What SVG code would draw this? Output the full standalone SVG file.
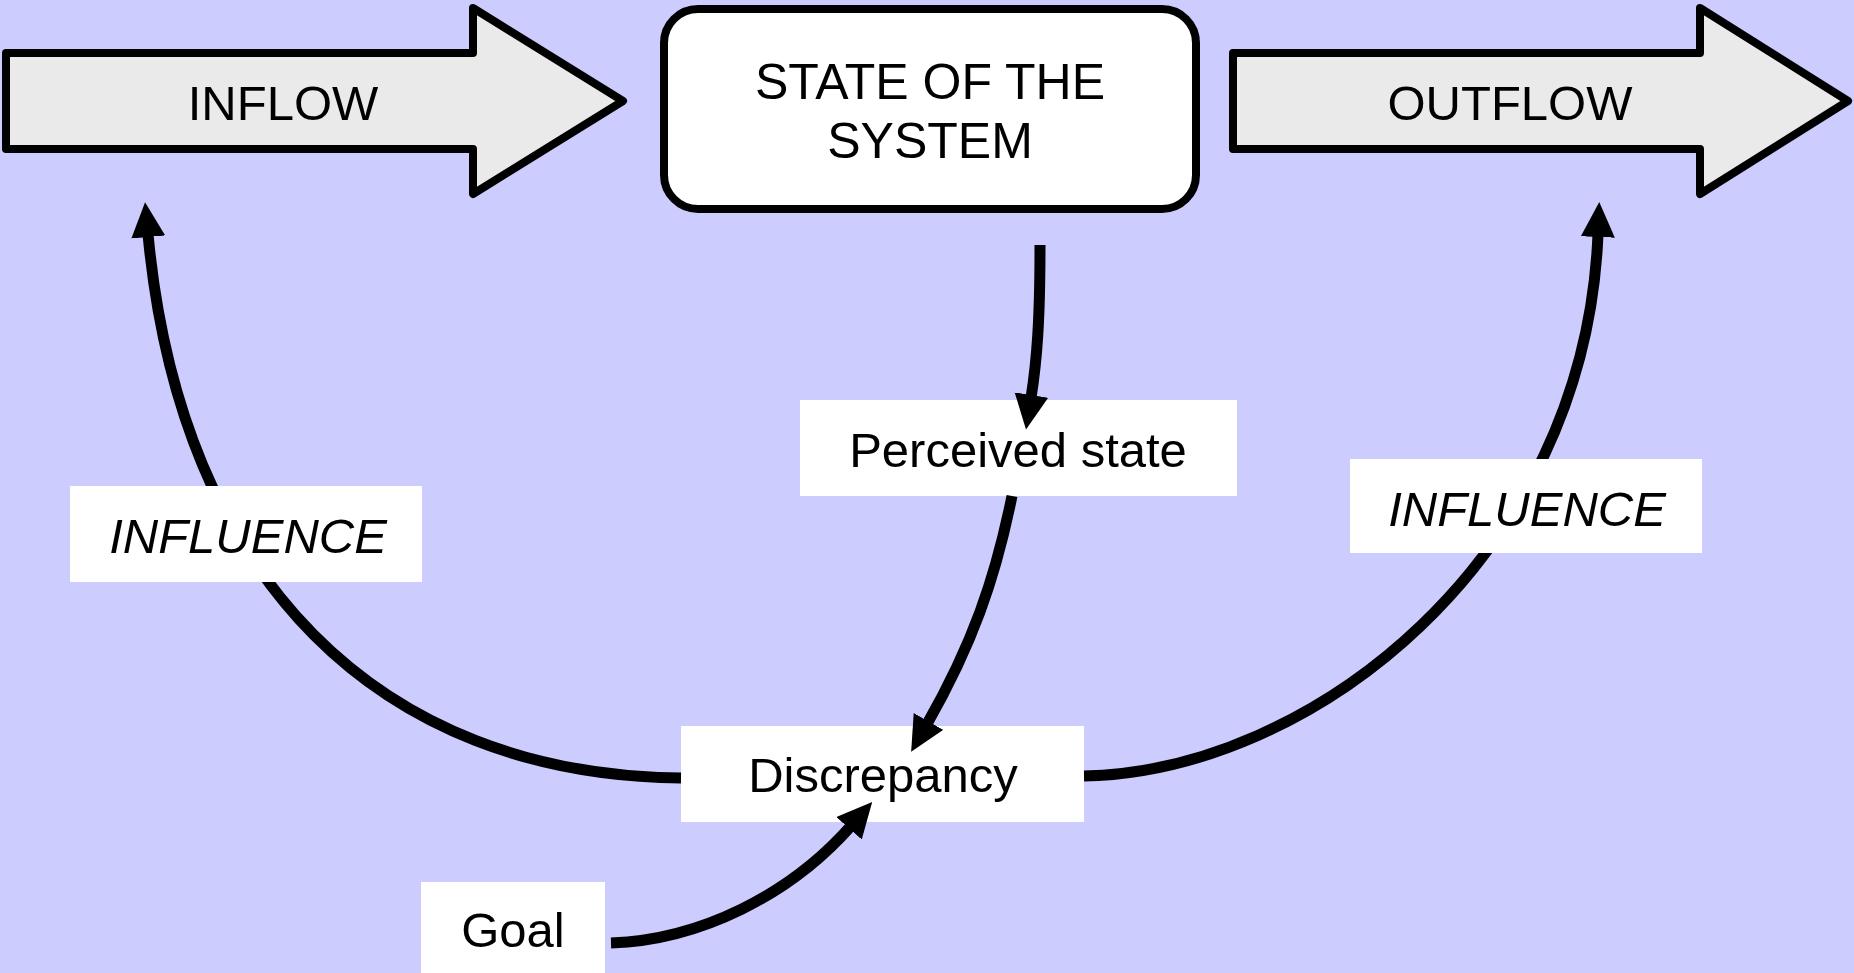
<svg xmlns="http://www.w3.org/2000/svg" width="1854" height="973" viewBox="0 0 1854 973">
<defs>
<style>
.bg{fill:#CCCCFF}
.flow{fill:#EAEAEA;stroke:#000;stroke-width:8;stroke-linejoin:round}
.state{fill:#fff;stroke:#000;stroke-width:8}
.box{fill:#fff;stroke:none}
.t{font-family:"Liberation Sans",Arial,sans-serif;font-size:49px;fill:#000;text-anchor:middle}
.big{font-size:50px}
.it{font-style:italic}
.c{fill:none;stroke:#000;stroke-width:11}
</style>
<marker id="ah" markerUnits="userSpaceOnUse" markerWidth="36" markerHeight="36" viewBox="0 0 36 36" refX="3" refY="17" orient="auto">
<path d="M0,0 L35,17 L0,34 z" fill="#000"/>
</marker>
</defs>
<rect class="bg" x="0" y="0" width="1854" height="973"/>
<g id="perceived">
<rect class="box" x="800" y="400" width="437" height="96"/>
<text class="t" x="1018" y="467">Perceived state</text>
</g>
<g id="discrepancy">
<rect class="box" x="681" y="726" width="403" height="96"/>
<text class="t" x="883" y="792">Discrepancy</text>
</g>
<g id="goal">
<rect class="box" x="421" y="882" width="184" height="91"/>
<text class="t" x="513" y="947">Goal</text>
</g>
<g id="connectors">
<path class="c" d="M1040,245 C1040,320 1037,360 1031,398" marker-end="url(#ah)"/>
<path class="c" d="M1012,496 C995,580 972,645 927,724" marker-end="url(#ah)"/>
<path class="c" d="M611,943 C700,940 790,895 851,826" marker-end="url(#ah)"/>
<path class="c" d="M681,778 C380,775 180,580 148,234" marker-end="url(#ah)"/>
<path class="c" d="M1084,776 C1310,772 1585,560 1598,234" marker-end="url(#ah)"/>
</g>
<g id="influence-left">
<rect class="box" x="70" y="486" width="352" height="96"/>
<text class="t it" x="248" y="553">INFLUENCE</text>
</g>
<g id="influence-right">
<rect class="box" x="1350" y="459" width="352" height="94"/>
<text class="t it" x="1527" y="526">INFLUENCE</text>
</g>
<g id="inflow">
<polygon class="flow" points="6,53 473,53 473,8 623,101 473,194 473,149 6,149"/>
<text class="t" x="283" y="120">INFLOW</text>
</g>
<g id="state">
<rect class="state" x="664" y="9" width="532" height="200" rx="34" ry="34"/>
<text class="t big" x="930" y="99">STATE OF THE</text>
<text class="t big" x="930" y="158">SYSTEM</text>
</g>
<g id="outflow">
<polygon class="flow" points="1233,53 1700,53 1700,8 1848,101 1700,194 1700,149 1233,149"/>
<text class="t" x="1510" y="120">OUTFLOW</text>
</g>
</svg>
